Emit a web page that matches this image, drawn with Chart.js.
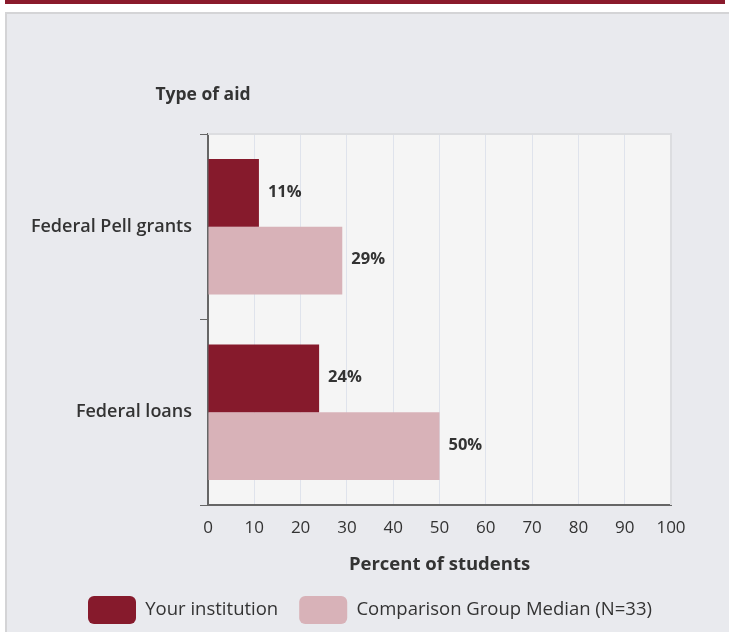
<!DOCTYPE html>
<html>
<head>
<meta charset="utf-8">
<script src="https://cdn.jsdelivr.net/npm/chart.js@4.4.1/dist/chart.umd.min.js"></script>
<style>
  html, body { margin: 0; padding: 0; background: #fff; width: 729px; height: 632px; overflow: hidden; }
  #topbar { position: absolute; left: 5px; top: 0; width: 720px; height: 4px; background: #8a1a2c; }
  #panel { position: absolute; left: 5px; top: 12px; width: 740px; height: 640px; background: #e9eaee; border: 2px solid #d4d4d6; box-sizing: border-box; }
  #wrap { position: absolute; left: 0; top: 0; width: 729px; height: 632px; }
</style>
</head>
<body>
<div id="topbar"></div>
<div id="panel"></div>
<div id="wrap"><canvas id="chart"></canvas></div>
<script>
  // data
  const categories = ['Federal Pell grants', 'Federal loans'];
  const yourInstitution = [11, 24];
  const comparisonMedian = [29, 50];
  const seriesNames = ['Your institution', 'Comparison Group Median (N=33)'];
  const xTicks = [0, 10, 20, 30, 40, 50, 60, 70, 80, 90, 100];

  const darkRed = '#861a2c';
  const pink = '#d8b2b8';
  const textColor = '#333333';
  const fontFamily = '"Open Sans", Roboto, sans-serif';

  // plot background, light frame, axis titles, legend placement
  const plotBg = {
    id: 'plotBg',
    afterLayout(chart) {
      const lg = chart.legend;
      const pad = lg.options.labels.padding;
      const dx = 88 - pad - lg.left;
      const dy = 596 - pad - lg.top;
      lg.left += dx; lg.right += dx; lg.top += dy; lg.bottom += dy;
    },
    beforeDraw(chart) {
      const { ctx, chartArea: a } = chart;
      ctx.save();
      ctx.fillStyle = '#f5f5f5';
      ctx.fillRect(a.left, a.top, a.right - a.left, a.bottom - a.top);
      ctx.restore();
    },
    afterDraw(chart) {
      const { ctx, chartArea: a } = chart;
      ctx.save();
      ctx.strokeStyle = '#dcdde0';
      ctx.lineWidth = 2;
      ctx.beginPath();
      ctx.moveTo(a.left, a.top);
      ctx.lineTo(a.right, a.top);
      ctx.lineTo(a.right, a.bottom);
      ctx.stroke();
      ctx.fillStyle = textColor;
      ctx.textAlign = 'center';
      ctx.textBaseline = 'middle';
      ctx.font = 'bold 17.5px ' + fontFamily;
      ctx.fillText('Type of aid', a.left - 5, 95);
      ctx.font = 'bold 18.5px ' + fontFamily;
      ctx.fillText('Percent of students', (a.left + a.right) / 2, 565);
      ctx.restore();
    }
  };

  // value labels to the right of bars
  const valueLabels = {
    id: 'valueLabels',
    afterDatasetsDraw(chart) {
      const { ctx } = chart;
      ctx.save();
      ctx.fillStyle = textColor;
      ctx.font = 'bold 16.5px ' + fontFamily;
      ctx.textAlign = 'left';
      ctx.textBaseline = 'middle';
      chart.data.datasets.forEach((ds, i) => {
        chart.getDatasetMeta(i).data.forEach((bar, j) => {
          ctx.fillText(ds.data[j] + '%', bar.x + 9, bar.y - 1);
        });
      });
      ctx.restore();
    }
  };

  new Chart(document.getElementById('chart'), {
    type: 'bar',
    data: {
      labels: categories,
      datasets: [
        { label: seriesNames[0], data: yourInstitution, backgroundColor: darkRed },
        { label: seriesNames[1], data: comparisonMedian, backgroundColor: pink }
      ]
    },
    options: {
      indexAxis: 'y',
      responsive: true,
      maintainAspectRatio: false,
      animation: false,
      categoryPercentage: 0.73,
      barPercentage: 1,
      layout: { padding: { left: 0, right: 58, top: 134, bottom: 0 } },
      plugins: {
        tooltip: { enabled: false },
        legend: {
          position: 'bottom',
          align: 'start',
          labels: {
            color: textColor,
            font: { family: fontFamily, size: 18.5 },
            boxWidth: 48,
            boxHeight: 28,
            padding: 21,
            useBorderRadius: true,
            borderRadius: 6
          }
        }
      },
      scales: {
        x: {
          min: 0,
          max: 100,
          afterBuildTicks(scale) { scale.ticks = xTicks.map(v => ({ value: v })); },
          afterFit(scale) { scale.height = 68; },
          grid: { color: '#dfe3ec', lineWidth: 1, drawTicks: false },
          border: { display: true, color: '#666666', width: 2 },
          ticks: { color: textColor, font: { family: fontFamily, size: 17 }, padding: 13 }
        },
        y: {
          afterFit(scale) { scale.width = 208; },
          grid: { drawOnChartArea: false, drawTicks: true, tickLength: 8, color: '#666666', lineWidth: 1, offset: true },
          border: { display: true, color: '#666666', width: 2 },
          ticks: { color: textColor, font: { family: fontFamily, size: 18, weight: 600 }, padding: 8 }
        }
      }
    },
    plugins: [plotBg, valueLabels]
  });
</script>
</body>
</html>
